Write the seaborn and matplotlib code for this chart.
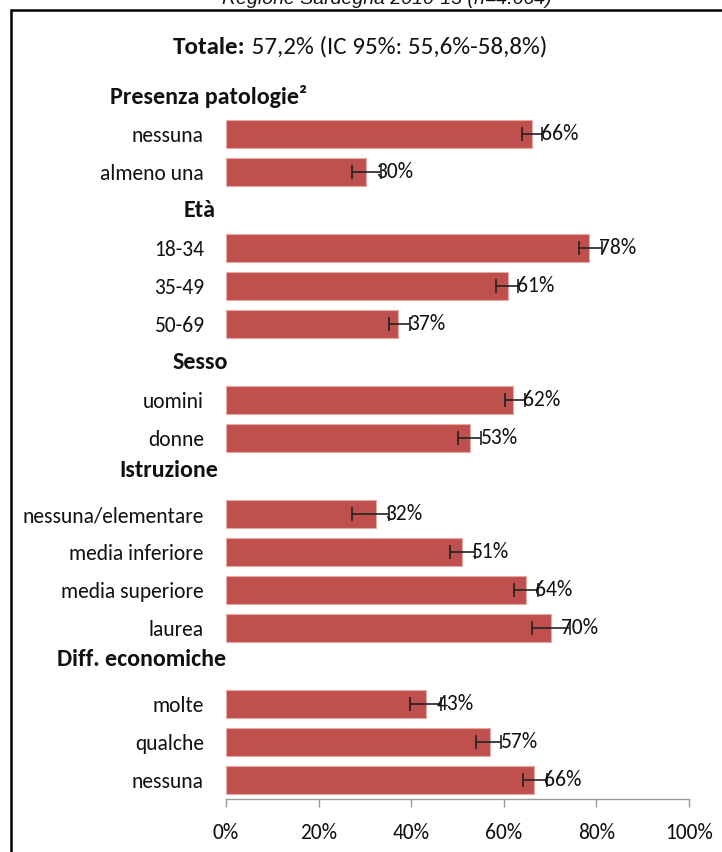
import matplotlib
matplotlib.use("Agg")
import matplotlib.pyplot as plt
import matplotlib.transforms as mtrans
import seaborn as sns
import pandas as pd
import numpy as np

# ---- data ----
groups = ["Presenza patologie²", "Età", "Sesso", "Istruzione", "Diff. economiche"]
group_categories = [
    ["nessuna", "almeno una"],
    ["18-34", "35-49", "50-69"],
    ["uomini", "donne"],
    ["nessuna/elementare", "media inferiore", "media superiore", "laurea"],
    ["molte", "qualche", "nessuna"],
]
values = [66.0, 30.3, 78.4, 60.8, 37.2, 62.0, 52.8, 32.3, 50.9, 64.7, 70.3, 43.3, 57.1, 66.5]
ci_low = [63.9, 27.3, 76.2, 58.4, 35.1, 60.2, 50.2, 27.3, 48.3, 62.3, 66.0, 39.8, 53.9, 64.1]
ci_high = [68.2, 33.5, 81.2, 63.0, 39.8, 64.5, 55.0, 35.1, 53.7, 67.3, 74.2, 46.5, 59.3, 69.3]
value_labels = ["66%", "30%", "78%", "61%", "37%", "62%", "53%", "32%", "51%", "64%", "70%", "43%", "57%", "66%"]
x_ticks = [0, 20, 40, 60, 80, 100]
x_tick_labels = ["0%", "20%", "40%", "60%", "80%", "100%"]
title_bold = "Totale:"
title_rest = " 57,2% (IC 95%: 55,6%-58,8%)"
top_caption = "Regione Sardegna 2010-13 (n=4.664)"

# ---- layout: slot positions (each header takes one slot) ----
slots, labels, header_slots = [], [], []
s = 0
for cats in group_categories:
    header_slots.append(s)
    s += 1
    for c in cats:
        slots.append(s)
        labels.append(c)
        s += 1
header_nudge = [0.0, 0.0, 0.0, -0.15, -0.16]
header_left_px = [110, 184, 173, 119, 57]

df = pd.DataFrame({"slot": slots, "value": values})

FONT = ["Carlito", "Lato", "DejaVu Sans"]
plt.rcParams["font.family"] = FONT

W, H = 722, 852
fig = plt.figure(figsize=(W / 100, H / 100), dpi=100)
ax = fig.add_axes([226 / W, (H - 799) / H, 463 / W, 722 / H])

BAR = "#C0504D"
sns.barplot(data=df, x="value", y="slot", orient="h", native_scale=True,
            color=BAR, width=0.76, saturation=1, edgecolor="#E8A8A6",
            linewidth=0.8, ax=ax)

v = np.array(values)
xerr = np.vstack([v - np.array(ci_low), np.array(ci_high) - v])
ax.errorbar(v, slots, xerr=xerr, fmt="none", ecolor="#222222",
            elinewidth=1.2, capsize=5, capthick=1.2, zorder=5)

for val, sl, lab in zip(values, slots, value_labels):
    ax.annotate(lab, xy=(val, sl), xytext=(7, 0), textcoords="offset points",
                va="center", ha="left", fontsize=15.5, color="#111111", zorder=6)

ax.set_xlim(0, 100)
ax.set_ylim(s - 0.5, -0.5)
ax.set_yticks(slots)
ax.set_yticklabels(labels, fontsize=15.5, color="#111111")
ax.tick_params(axis="y", length=0, pad=16)
ax.set_xticks(x_ticks)
ax.set_xticklabels(x_tick_labels, fontsize=15.5, color="#111111")
ax.tick_params(axis="x", length=5.5, width=1, color="#999999", pad=12, direction="out")
ax.set_xlabel("")
ax.set_ylabel("")
for sp in ["top", "right", "left"]:
    ax.spines[sp].set_visible(False)
ax.spines["bottom"].set_color("#999999")
ax.spines["bottom"].set_linewidth(1)

# group headers
htrans = mtrans.blended_transform_factory(fig.transFigure, ax.transData)
for g, hs, nd, xl in zip(groups, header_slots, header_nudge, header_left_px):
    fig.text(xl / W, hs + nd, g, transform=htrans, ha="left", va="center",
             fontsize=17.3, fontweight="bold", color="#111111")

# title
t1 = fig.text(173 / W, 1 - 47 / H, title_bold, ha="left", va="center",
              fontsize=18, fontweight="bold", color="#111111")
fig.canvas.draw()
bb = t1.get_window_extent(fig.canvas.get_renderer())
fig.text(bb.x1 / W, 1 - 47 / H, title_rest, ha="left", va="center",
         fontsize=18, color="#111111")

# clipped caption on top
fig.text(387 / W, 1 - 4.5 / H, top_caption, ha="center", va="baseline",
         fontsize=14, style="italic", family=["Liberation Sans", "DejaVu Sans"],
         color="#111111")

# frame
fig.patches.append(plt.Rectangle((11 / W, -0.1), 1.2, 1.1 - 10.5 / H,
                                 transform=fig.transFigure, fill=False,
                                 edgecolor="black", linewidth=1.8))

fig.savefig("out.png", dpi=100)
